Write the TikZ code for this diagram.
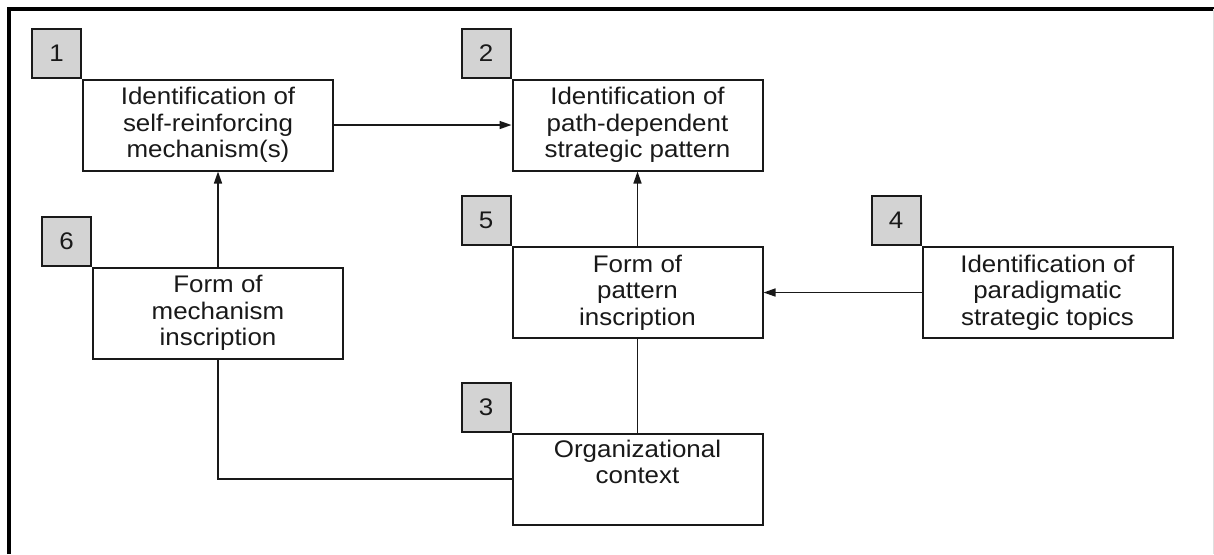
\documentclass[tikz,border=0pt]{standalone}
\usepackage{fontspec}
\setmainfont{Liberation Sans}[FakeStretch=1.08]
\usepackage{tikz}
\usetikzlibrary{arrows.meta, positioning}
\definecolor{mydark}{RGB}{25,25,25}
\definecolor{numgray}{RGB}{211,211,211}
\tikzset{
  block/.style={rectangle, draw=mydark, fill=white,
    minimum width=125pt, minimum height=45.5pt, align=center,
    inner sep=0pt, line width=1pt, text=mydark,
    font=\fontsize{12}{13.3}\selectfont},
  numblock/.style={rectangle, draw=mydark, fill=numgray,
    minimum size=24.5pt, inner sep=0pt, line width=1pt, text=mydark,
    anchor=south east, font=\fontsize{12}{13.3}\selectfont},
  arrow/.style={-{Triangle[length=6pt, width=4pt]}, line width=0.75pt, color=mydark},
  line/.style={line width=0.75pt, color=mydark}
}

\begin{document}
\begin{tikzpicture}[x=0.5pt, y=-0.5pt]
  \useasboundingbox (0,0) rectangle (1214,554);

  % Frame
  \draw[line width=1.75pt, black] (9,554) -- (9,9) -- (1214,9);
  \draw[gray!25, line width=0.5pt] (1213,9) -- (1213,554);

  % Boxes
  \node[block] (mech) at (208,125) {Identification of\\self-reinforcing\\mechanism(s)};
  \node[block] (pattern) at (637.5,125) {Identification of\\path-dependent\\strategic pattern};
  \node[block] (topics) at (1047.5,292.5) {Identification of\\paradigmatic\\strategic topics};
  \node[block] (patform) at (637.5,292.5) {Form of\\pattern\\inscription};
  \node[block] (mechform) at (218,313) {Form of\\mechanism\\inscription};
  \node[block] (context) at (637.5,479) {Organizational\\context\\\strut};

  % Numbers
  \node[numblock] (n1) at (mech.north west) {1};
  \node[numblock] (n2) at (pattern.north west) {2};
  \node[numblock] (n3) at (context.north west) {3};
  \node[numblock] (n4) at (topics.north west) {4};
  \node[numblock] (n5) at (patform.north west) {5};
  \node[numblock] (n6) at (mechform.north west) {6};

  % Connections
  \draw[arrow] (mech) -- (pattern);
  \draw[arrow] (patform) -- (pattern);
  \draw[arrow] (topics) -- (patform);
  \draw[arrow] (mechform.north) -- (mechform.north |- mech.south);
  \draw[line] (mechform.south) |- (context.west);
  \draw[line] (patform) -- (context);
\end{tikzpicture}
\end{document}
